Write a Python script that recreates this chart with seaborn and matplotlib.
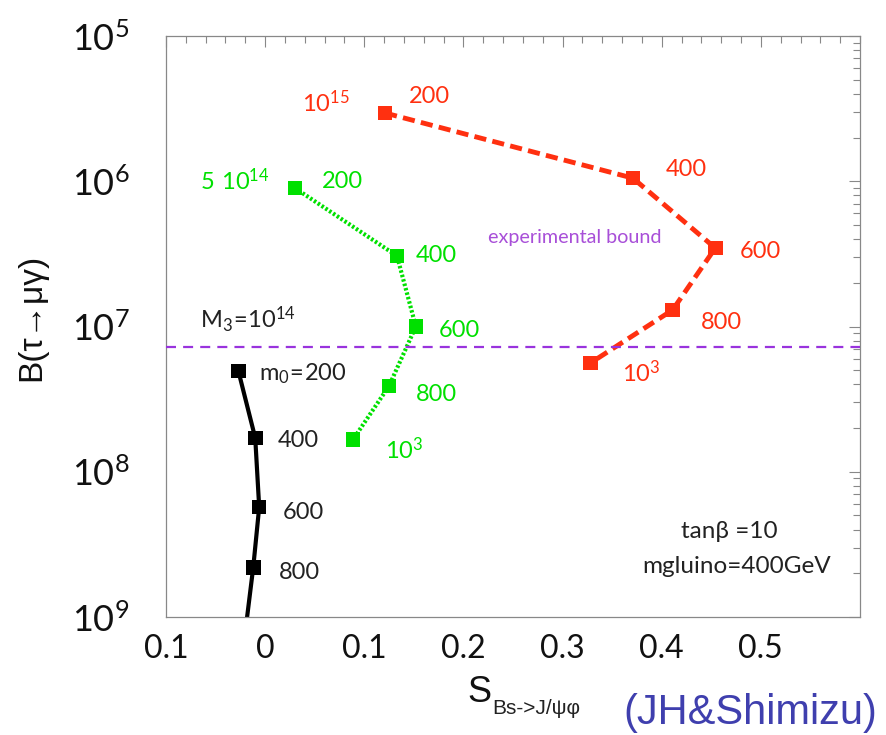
import numpy as np
import pandas as pd
import matplotlib
matplotlib.use("Agg")
import matplotlib.pyplot as plt
import seaborn as sns
from matplotlib.ticker import FixedLocator, FixedFormatter, NullFormatter, MultipleLocator, LogLocator

# ---------------- data ----------------
m0_values = [200, 400, 600, 800, 1000]

# M3 = 1e14 (black)
s_black = [-0.027, -0.010, -0.006, -0.012, -0.021]
b_black = [4.94e-8, 1.71e-8, 5.7e-9, 2.2e-9, 7.0e-10]
# M3 = 5e14 (green)
s_green = [0.030, 0.133, 0.152, 0.125, 0.0885]
b_green = [8.98e-7, 3.06e-7, 1.0e-7, 3.9e-8, 1.66e-8]
# M3 = 1e15 (red)
s_red = [0.121, 0.371, 0.454, 0.411, 0.328]
b_red = [2.95e-6, 1.05e-6, 3.47e-7, 1.3e-7, 5.6e-8]

exp_bound = 7.2e-8

x_ticks = [-0.1, 0.0, 0.1, 0.2, 0.3, 0.4, 0.5]
x_tick_labels = ["0.1", "0", "0.1", "0.2", "0.3", "0.4", "0.5"]
y_ticks = [1e-5, 1e-6, 1e-7, 1e-8, 1e-9]
y_tick_labels = [r"$\mathregular{10^{5}}$", r"$\mathregular{10^{6}}$",
                 r"$\mathregular{10^{7}}$", r"$\mathregular{10^{8}}$",
                 r"$\mathregular{10^{9}}$"]

df = pd.concat([
    pd.DataFrame({"S": s_black, "B": b_black, "m0": m0_values, "M3": "1e14"}),
    pd.DataFrame({"S": s_green, "B": b_green, "m0": m0_values, "M3": "5e14"}),
    pd.DataFrame({"S": s_red, "B": b_red, "m0": m0_values, "M3": "1e15"}),
], ignore_index=True)

# ---------------- style ----------------
sns.set_theme(style="white")
FAM = ["Lato", "DejaVu Sans"]
LIB = ["Liberation Sans", "DejaVu Sans"]
plt.rcParams["font.family"] = FAM
plt.rcParams["mathtext.fontset"] = "dejavusans"

fig = plt.figure(figsize=(8.86, 7.35), dpi=100)
ax = fig.add_axes([166 / 886, 1 - 617 / 735, (860 - 166) / 886, (617 - 36) / 735])

styles = {
    "1e14": dict(color="black", lw=3.0, ls="-"),
    "5e14": dict(color="#00e000", lw=3.0, ls=(0, (0.6, 0.5))),
    "1e15": dict(color="#ff3010", lw=3.5, ls=(0, (2.5, 1.3))),
}

for key, st in styles.items():
    sub = df[df["M3"] == key]
    sns.lineplot(data=sub, x="S", y="B", sort=False, estimator=None, ax=ax,
                 color=st["color"], linewidth=st["lw"], linestyle=st["ls"],
                 legend=False)
    sns.scatterplot(data=sub, x="S", y="B", ax=ax, marker="s", s=110,
                    color=st["color"], edgecolor="none", legend=False, zorder=5)

ax.axhline(exp_bound, color="#9933dd", lw=1.6, ls=(0, (4.5, 3.2)), zorder=3)

ax.set_yscale("log")
ax.set_xlim(-0.1, 0.6)
ax.set_ylim(1e-9, 1e-5)

ax.xaxis.set_major_locator(FixedLocator(x_ticks))
ax.xaxis.set_major_formatter(FixedFormatter(x_tick_labels))
ax.xaxis.set_minor_locator(MultipleLocator(0.02))
ax.yaxis.set_major_locator(FixedLocator(y_ticks))
ax.yaxis.set_major_formatter(FixedFormatter(y_tick_labels))
ax.yaxis.set_minor_locator(LogLocator(base=10, subs=np.arange(2, 10)))
ax.yaxis.set_minor_formatter(NullFormatter())

ax.tick_params(which="both", direction="in", top=True, right=True,
               color="#888888", width=0.8, labelcolor="#111111")
ax.tick_params(which="major", length=8)
ax.tick_params(which="minor", length=5)
ax.tick_params(axis="y", which="major", labelsize=26, pad=68)
ax.tick_params(axis="x", which="major", labelsize=23, pad=12)
for t in ax.get_yticklabels():
    t.set_horizontalalignment("left")
for sp in ax.spines.values():
    sp.set_color("#888888")
    sp.set_linewidth(0.9)

# x label: big "S" with a small subscript
ax.set_xlabel("S", fontsize=26, family=LIB, color="#111111")
ax.xaxis.set_label_coords((479 - 166) / 694, -(692 - 617) / 581)
ax.xaxis.label.set_verticalalignment("center")
fig.text(492 / 886, 1 - 708 / 735, "Bs->J/ψφ", fontsize=15, family=LIB,
         color="#222222", ha="left", va="center")

ax.set_ylabel("B(τ→μγ)", fontsize=24, family=LIB, color="#111111")
ax.yaxis.set_label_coords(-(166 - 32) / 694, 1 - (317 - 36) / 581)
ax.yaxis.label.set_verticalalignment("center")

# ---------------- annotations ----------------
fs = 17
red, green, dark = "#ff3010", "#00e000", "#222222"
def lab(x, y, s, c, size=fs, **kw):
    ax.text(x, y, s, color=c, fontsize=size, ha="center", va="center", **kw)

lab(0.0613, 3.46e-6, r"$\mathregular{10^{15}}$", red)
lab(0.166, 3.86e-6, "200", red)
lab(0.425, 1.2e-6, "400", red)
lab(0.500, 3.26e-7, "600", red)
lab(0.4605, 1.07e-7, "800", red)
lab(0.379, 4.79e-8, r"$\mathregular{10^{3}}$", red)

lab(-0.0304, 1.005e-6, r"$\mathregular{5\ 10^{14}}$", green)
lab(0.0784, 1.0e-6, "200", green)
lab(0.173, 3.1e-7, "400", green)
lab(0.1964, 9.46e-8, "600", green)
lab(0.173, 3.38e-8, "800", green)
lab(0.1399, 1.41e-8, r"$\mathregular{10^{3}}$", green)

lab(-0.0173, 1.11e-7, r"$\mathregular{M_3\!=\!10^{14}}$", dark)
lab(0.0381, 4.71e-8, r"$\mathregular{m_0\!=\!200}$", dark)
lab(0.033, 1.63e-8, "400", dark)
lab(0.0381, 5.28e-9, "600", dark)
lab(0.035, 2.01e-9, "800", dark)

lab(0.312, 4.07e-7, "experimental bound", "#a84fd8", size=14.2)
lab(0.4686, 3.85e-9, "tanβ =10", dark, size=17.5)
lab(0.4756, 2.21e-9, "mgluino=400GeV", dark, size=17.5)

fig.text(750 / 886, 1 - 713 / 735, "(JH&Shimizu)", color="#3f3fae", fontsize=30,
         family=LIB, ha="center", va="center")

fig.savefig("out.png", dpi=100)
